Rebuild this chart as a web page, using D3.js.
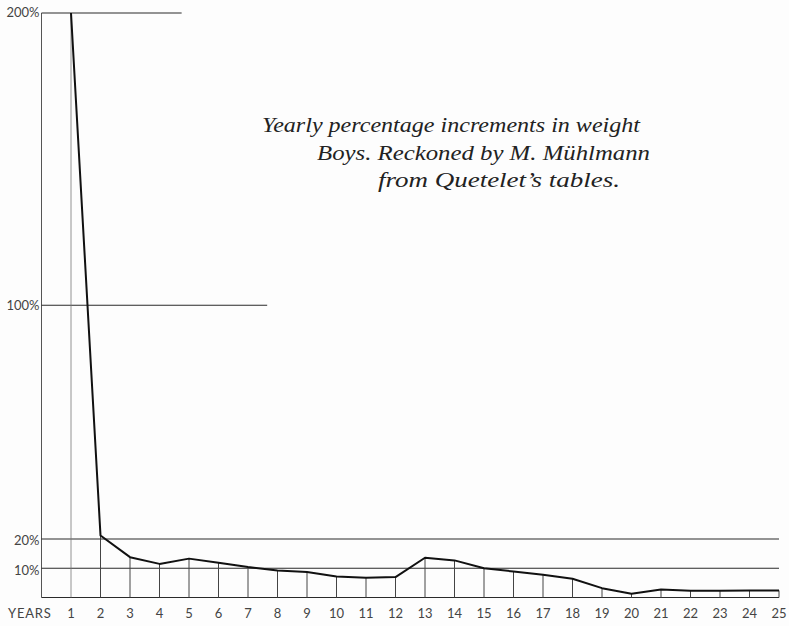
<!DOCTYPE html>
<html><head><meta charset="utf-8">
<script src="https://cdn.jsdelivr.net/npm/d3@7"></script>
<style>body{margin:0;background:#fdfdfd;} svg{display:block;}</style>
</head><body>
<svg id="c" width="789" height="626"></svg>
<script>
const years = [1,2,3,4,5,6,7,8,9,10,11,12,13,14,15,16,17,18,19,20,21,22,23,24,25];
const increments = [200,21.2,13.8,11.5,13.3,11.9,10.4,9.2,8.7,7.2,6.8,7.0,13.6,12.7,10.0,8.9,7.8,6.4,3.2,1.3,2.7,2.3,2.3,2.4,2.4];
const yTicks = [10,20,100,200];
const yTickLabels = ["10%","20%","100%","200%"];
const gridExtent = [25,25,7.65,4.75]; // year up to which each horizontal line reaches
const titleLines = ["Yearly percentage increments in weight","Boys.  Reckoned by M. Mühlmann","from Quetelet’s tables."];

const svg = d3.select("#c");
const x = d3.scaleLinear().domain([0,25]).range([41.5,779]);
const y = d3.scaleLinear().domain([0,200]).range([597.5,13]);
const ink = "#2a2a2a";

// left axis line
svg.append("line").attr("x1",x(0)).attr("x2",x(0)).attr("y1",y(200)).attr("y2",y(0))
  .attr("stroke","#555").attr("stroke-width",1);
// baseline
svg.append("line").attr("x1",x(0)).attr("x2",x(25)).attr("y1",y(0)).attr("y2",y(0))
  .attr("stroke",ink).attr("stroke-width",1.2);
// horizontal grid lines
svg.selectAll("line.h").data(yTicks).join("line").attr("class","h")
  .attr("x1",x(0)).attr("x2",(d,i)=>x(gridExtent[i]))
  .attr("y1",d=>y(d)).attr("y2",d=>y(d))
  .attr("stroke",ink).attr("stroke-width",1.1);
// drop lines
svg.selectAll("line.v").data(years).join("line").attr("class","v")
  .attr("x1",d=>x(d)).attr("x2",d=>x(d))
  .attr("y1",y(0)).attr("y2",(d,i)=>y(increments[i]))
  .attr("stroke",(d,i)=>i===0?"#777":"#444").attr("stroke-width",(d,i)=>i===0?0.8:1);
// data line
svg.append("path").datum(years)
  .attr("d", d3.line().x(d=>x(d)).y((d,i)=>y(increments[i])))
  .attr("fill","none").attr("stroke","#111").attr("stroke-width",2).attr("stroke-linejoin","round");

// y labels
svg.selectAll("text.yl").data(yTicks).join("text").attr("class","yl")
  .attr("x",x(0)-2).attr("y",(d)=>y(d)+ (d<=20?3:1))
  .attr("text-anchor","end").attr("dominant-baseline","middle")
  .attr("font-family","Lato, 'DejaVu Sans', sans-serif").attr("font-size",13)
  .attr("fill","#444").text((d,i)=>yTickLabels[i]);

// x labels
svg.append("text").attr("x",8).attr("y",618).attr("font-family","Lato, sans-serif")
  .attr("font-size",13).attr("fill","#444").attr("letter-spacing",0.8).text("YEARS");
svg.selectAll("text.xl").data(years).join("text").attr("class","xl")
  .attr("x",d=>x(d)).attr("y",618).attr("text-anchor","middle")
  .attr("font-family","Lato, sans-serif").attr("font-size",13).attr("fill","#444").text(d=>d);

// title
const tpos = [[262,132,378],[317,160,333],[378,187,242]];
svg.selectAll("text.t").data(titleLines).join("text").attr("class","t")
  .attr("x",(d,i)=>tpos[i][0]).attr("y",(d,i)=>tpos[i][1])
  .attr("textLength",(d,i)=>tpos[i][2]).attr("lengthAdjust","spacingAndGlyphs")
  .attr("font-family","'Liberation Serif', 'DejaVu Serif', serif").attr("font-style","italic")
  .attr("font-size",21).attr("fill","#222").text(d=>d);
</script>
</body></html>
